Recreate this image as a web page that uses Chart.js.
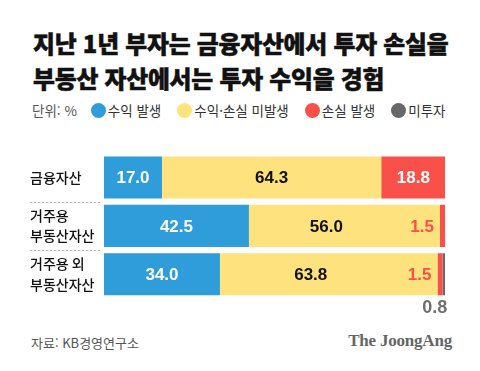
<!DOCTYPE html>
<html lang="ko">
<head>
<meta charset="utf-8">
<script src="https://cdn.jsdelivr.net/npm/chart.js@4"></script>
<style>
  html, body { margin: 0; padding: 0; background: #fff; }
  body {
    width: 480px; height: 371px; position: relative; overflow: hidden;
    font-family: 'Noto Sans CJK KR', 'Noto Sans', sans-serif;
  }
  .title {
    position: absolute; left: 33px; top: 25px; margin: 0;
    font-size: 23.8px; font-weight: 900; line-height: 35px; color: #111;
    -webkit-text-stroke: 0.5px #111; letter-spacing: -0.2px;
  }
  .legend {
    position: absolute; left: 32px; top: 100px; height: 20px;
    display: flex; align-items: center; font-size: 13.5px; color: #333;
  }
  .legend .unit { color: #555; margin-right: 14px; }
  .legend .item { display: flex; align-items: center; margin-right: 16px; }
  .legend .dot { width: 15px; height: 15px; border-radius: 50%; margin-right: 2px; }
  #chart { position: absolute; left: 0; top: 130px; }
  .source { position: absolute; left: 31px; top: 333px; font-size: 13px; color: #555; }
  .brand {
    position: absolute; right: 28px; top: 331px;
    font-family: 'Liberation Serif', 'DejaVu Serif', serif; font-weight: bold;
    font-size: 17px; color: #666; letter-spacing: -0.2px;
  }
</style>
</head>
<body>
<h1 class="title">지난 1년 부자는 금융자산에서 투자 손실을<br>부동산 자산에서는 투자 수익을 경험</h1>
<div class="legend" id="legend"><span class="unit">단위: %</span></div>
<canvas id="chart" width="480" height="190"></canvas>
<div class="source">자료: KB경영연구소</div>
<div class="brand">The JoongAng</div>

<script>
// data
const categories = ['금융자산', ['거주용', '부동산자산'], ['거주용 외', '부동산자산']];
const seriesNames = ['수익 발생', '수익·손실 미발생', '손실 발생', '미투자'];
const gain = [17.0, 42.5, 34.0];
const noChange = [64.3, 56.0, 63.8];
const loss = [18.8, 1.5, 1.5];
const notInvested = [0, 0, 0.8];

const COLORS = ['#2e9dd9', '#fde27e', '#f9514a', '#686868'];
const NUM_FONT = '"Liberation Sans", Arial, sans-serif';

// html legend
const legendEl = document.getElementById('legend');
seriesNames.forEach((name, i) => {
  const item = document.createElement('span');
  item.className = 'item';
  item.innerHTML = `<span class="dot" style="background:${COLORS[i]}"></span>${name}`;
  legendEl.appendChild(item);
});

// numbers on / next to the bars
const valueLabels = {
  id: 'valueLabels',
  afterDatasetsDraw(chart) {
    const ctx = chart.ctx;
    ctx.save();
    chart.data.datasets.forEach((ds, di) => {
      chart.getDatasetMeta(di).data.forEach((bar, i) => {
        const v = ds.data[i];
        if (!v) return;
        const { x, y, base, height } = bar.getProps(['x', 'y', 'base', 'height'], true);
        const w = x - base;
        const text = v.toFixed(1);
        ctx.font = 'bold 17px ' + NUM_FONT;
        ctx.textBaseline = 'middle';

        if (di === 3) {
          // 미투자: under the bar end
          ctx.font = 'bold 18px ' + NUM_FONT;
          ctx.fillStyle = '#707070';
          ctx.textAlign = 'right';
          ctx.textBaseline = 'top';
          ctx.fillText(text, x + 2, y + height / 2 + 4);
        } else if (w < 30) {
          // thin slice: label sits just left of it
          ctx.fillStyle = ds.backgroundColor;
          ctx.textAlign = 'right';
          ctx.fillText(text, base - 6, y + 1);
        } else {
          let cx = base + w / 2;
          const next = chart.data.datasets[di + 1];
          if (next && next.data[i] > 0 && next.data[i] < 5) cx -= 18;
          ctx.fillStyle = di === 1 ? '#111' : '#fff';
          ctx.textAlign = 'center';
          ctx.fillText(text, cx, y + 1);
        }
      });
    });
    ctx.restore();
  }
};

// dotted separators in the label column
const separators = {
  id: 'separators',
  afterDraw(chart) {
    const yScale = chart.scales.y;
    const ctx = chart.ctx;
    ctx.save();
    ctx.strokeStyle = '#b5b5b5';
    ctx.lineWidth = 1;
    ctx.setLineDash([2, 2]);
    for (let i = 0; i < categories.length - 1; i++) {
      const yy = Math.round((yScale.getPixelForTick(i) + yScale.getPixelForTick(i + 1)) / 2) + 0.5;
      ctx.beginPath();
      ctx.moveTo(30, yy);
      ctx.lineTo(chart.chartArea.left - 4, yy);
      ctx.stroke();
    }
    ctx.restore();
  }
};

const datasets = [gain, noChange, loss, notInvested].map((data, i) => ({
  label: seriesNames[i],
  data,
  backgroundColor: COLORS[i],
  borderWidth: 0,
  barPercentage: 0.87,
  categoryPercentage: 1,
}));

new Chart(document.getElementById('chart'), {
  type: 'bar',
  data: { labels: categories, datasets },
  options: {
    indexAxis: 'y',
    responsive: false,
    animation: false,
    layout: { padding: { left: 30, right: 35, top: 9.5, bottom: 21.5 } },
    plugins: { legend: { display: false }, tooltip: { enabled: false } },
    scales: {
      x: { stacked: true, display: false, min: 0, max: 100 },
      y: {
        stacked: true,
        grid: { display: false },
        border: { display: false },
        afterFit: scale => { scale.width = 74; },
        ticks: {
          crossAlign: 'far',
          color: '#111',
          font: { family: "'Noto Sans CJK KR', sans-serif", size: 14, weight: '500', lineHeight: 1.45 },
        },
      },
    },
  },
  plugins: [valueLabels, separators],
});
</script>
</body>
</html>
